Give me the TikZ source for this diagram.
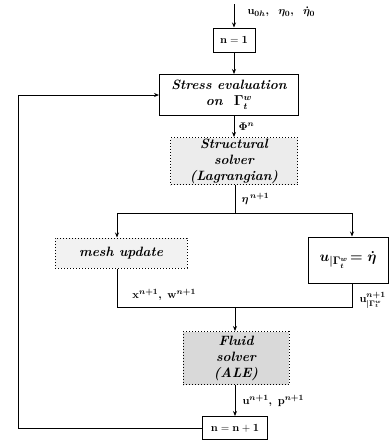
\documentclass[tikz,border=0pt]{standalone}
\usepackage{amsmath}
\usepackage{amssymb}
\usepackage{xcolor}
\usepackage{tikz}
\usetikzlibrary{arrows.meta}

\begin{document}
\begin{tikzpicture}[x=1pt, y=-1pt, >={Stealth[length=5pt,width=4pt]}, line width=1pt,
	box/.style={draw, align=center, inner sep=1pt, font=\fontsize{13.5}{16}\selectfont\bfseries\itshape},
	solverbox/.style={box, dotted, fill=gray!15},
	lbl/.style={font=\fontsize{11}{13}\selectfont\boldmath, inner sep=1pt}]
				\useasboundingbox (0,0) rectangle (389,440);
				\coordinate (start) at (234,4);
				\node[box, minimum width=42pt, minimum height=24pt, font=\fontsize{11}{13}\selectfont] (N1) at (234,40) {$\mathbf{n = 1}$};
				\node[box, minimum width=139pt, minimum height=41pt] (Stress) at (229,95) {Stress evaluation\\on\ \ $\boldsymbol{\Gamma_t^w}$};
				\node[solverbox, minimum width=127pt, minimum height=47pt] (Struct) at (234,161) {Structural\\solver\\(Lagrangian)};
				\node[solverbox, fill=gray!10, minimum width=132pt, minimum height=30pt] (Mesh) at (121,253) {mesh update};
				\node[box, minimum width=80pt, minimum height=46pt, font=\fontsize{15}{17}\selectfont] (Ubox) at (348,260) {$\boldsymbol{u_{|\Gamma_t^w}\!=\dot\eta}$};
				\node[solverbox, fill=gray!30, minimum width=106pt, minimum height=53pt] (Fluid) at (236,358) {Fluid\\solver\\(ALE)};
				\node[box, minimum width=65pt, minimum height=23pt, font=\fontsize{11}{13}\selectfont] (Next) at (235,428) {$\mathbf{n = n + 1}$};
				\coordinate (split) at (235,213);
				\coordinate (merge) at (235,307);
				\coordinate (loop) at (18,428);
				% main column
				\draw[->] (start) -- (N1) node[lbl, pos=0.35, right=12pt] {$\mathbf{u}_{0h},\ \ \eta_0,\ \ \dot\eta_0$};
				\draw[->] (N1.south) -- (N1.south |- Stress.north);
				\draw[->] (Stress.south -| N1) -- (Struct.north -| N1) node[lbl, midway, right=3pt] {$\Phi^n$};
				\draw (Struct.south -| split) -- (split) node[lbl, midway, right=5pt] {$\eta^{\,n+1}$};
				\draw[->] (split) -| (Mesh.north -| 117,0);
				\draw[->] (split) -| (Ubox.north -| 352,0);
				\draw (Mesh.south -| 117,0) |- (merge) node[lbl, pos=0.7, above=5pt] {$\mathbf{x}^{n+1},\ \mathbf{w}^{n+1}$};
				\draw (Ubox.south -| 352,0) |- (merge) node[lbl, pos=0.35, right=6pt] {$\mathbf{u}^{n+1}_{|\Gamma_t^w}$};
				\draw[->] (merge) -- (Fluid.north -| merge);
				\draw[->] (Fluid.south -| merge) -- (Next.north -| merge) node[lbl, midway, right=6pt] {$\mathbf{u}^{n+1},\ \mathbf{p}^{n+1}$};
				% back to stress evaluation
				\draw[->] (Next.west) -- (loop) -- (loop |- Stress.west) -- (Stress.west);
			\end{tikzpicture}
\end{document}
